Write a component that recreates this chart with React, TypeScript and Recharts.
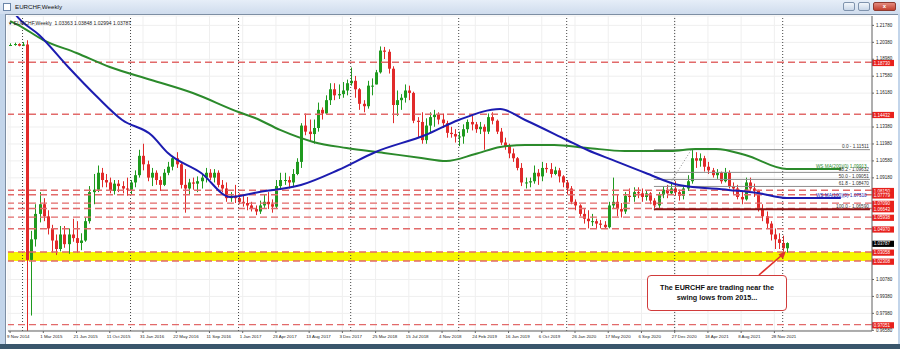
import { ComposedChart, Bar, Line, XAxis, YAxis, CartesianGrid, ReferenceLine, ReferenceArea } from "recharts";

// two-week candles, EURCHF, starting 9 Nov 2014
const OPEN = [
  1.2010, 1.2016, 1.2024, 1.2010, 1.2020, 1.0240, 1.0410, 1.0620,
  1.0700, 1.0600, 1.0500, 1.0400, 1.0330, 1.0450, 1.0370, 1.0450,
  1.0420, 1.0380, 1.0400, 1.0560, 1.0800, 1.0820, 1.0960, 1.0900,
  1.0880, 1.0810, 1.0870, 1.0850, 1.0830, 1.0820, 1.0880, 1.0940,
  1.1100, 1.1030, 1.0920, 1.0960, 1.0900, 1.0860, 1.0960, 1.1010,
  1.1080, 1.1030, 1.0860, 1.0830, 1.0880, 1.0870, 1.0890, 1.0920,
  1.0960, 1.0920, 1.0960, 1.0860, 1.0830, 1.0750, 1.0770, 1.0750,
  1.0720, 1.0710, 1.0690, 1.0660, 1.0640, 1.0690, 1.0720, 1.0700,
  1.0680, 1.0850, 1.0900, 1.0900, 1.0880, 1.0950, 1.1050, 1.1350,
  1.1300, 1.1280, 1.1330, 1.1480, 1.1450, 1.1560, 1.1650, 1.1600,
  1.1610, 1.1640, 1.1700, 1.1720, 1.1650, 1.1530, 1.1510, 1.1680,
  1.1680, 1.1790, 1.1970, 1.1960, 1.1820, 1.1520, 1.1560, 1.1580,
  1.1640, 1.1620, 1.1390, 1.1380, 1.1230, 1.1350, 1.1420, 1.1440,
  1.1400, 1.1370, 1.1290, 1.1280, 1.1260, 1.1260, 1.1320, 1.1380,
  1.1360, 1.1320, 1.1340, 1.1300, 1.1420, 1.1390, 1.1300, 1.1210,
  1.1180, 1.1120, 1.1080, 1.1000, 1.0880, 1.0880, 1.0890, 1.0960,
  1.0930, 1.1000, 1.0990, 1.0950, 1.0980, 1.0930, 1.0880, 1.0830,
  1.0720, 1.0690, 1.0620, 1.0580, 1.0560, 1.0560, 1.0540, 1.0530,
  1.0510, 1.0690, 1.0720, 1.0660, 1.0640, 1.0770, 1.0760, 1.0800,
  1.0790, 1.0760, 1.0790, 1.0730, 1.0690, 1.0780, 1.0820, 1.0790,
  1.0830, 1.0800, 1.0770, 1.0830, 1.0890, 1.1080, 1.1060, 1.1080,
  1.1010, 1.0980, 1.0940, 1.0960, 1.0890, 1.0960, 1.0850, 1.0830,
  1.0760, 1.0740, 1.0880, 1.0830, 1.0810, 1.0660, 1.0600, 1.0540,
  1.0450, 1.0410, 1.0380, 1.0336,
];
const HIGH = [
  1.2030, 1.2035, 1.2030, 1.2040, 1.2055, 1.0480, 1.0700, 1.0800,
  1.0750, 1.0650, 1.0530, 1.0450, 1.0520, 1.0520, 1.0500, 1.0580,
  1.0560, 1.0460, 1.0590, 1.0850, 1.0950, 1.1020, 1.1000, 1.0950,
  1.0920, 1.0900, 1.0900, 1.0890, 1.0920, 1.0900, 1.0980, 1.1150,
  1.1200, 1.1060, 1.1000, 1.0980, 1.0930, 1.0990, 1.1050, 1.1100,
  1.1130, 1.1040, 1.0990, 1.0910, 1.0920, 1.0930, 1.0950, 1.1000,
  1.0990, 1.0990, 1.0980, 1.0900, 1.0880, 1.0800, 1.0860, 1.0790,
  1.0780, 1.0760, 1.0720, 1.0690, 1.0730, 1.0780, 1.0800, 1.0740,
  1.0900, 1.0960, 1.0960, 1.0930, 1.0990, 1.1080, 1.1370, 1.1450,
  1.1400, 1.1400, 1.1540, 1.1500, 1.1600, 1.1700, 1.1700, 1.1690,
  1.1710, 1.1730, 1.1830, 1.1760, 1.1660, 1.1560, 1.1720, 1.1740,
  1.1810, 1.2004, 1.2000, 1.1980, 1.1840, 1.1640, 1.1610, 1.1690,
  1.1680, 1.1630, 1.1420, 1.1460, 1.1410, 1.1460, 1.1480, 1.1460,
  1.1450, 1.1390, 1.1340, 1.1320, 1.1300, 1.1360, 1.1400, 1.1430,
  1.1380, 1.1380, 1.1360, 1.1450, 1.1460, 1.1400, 1.1330, 1.1250,
  1.1200, 1.1160, 1.1090, 1.1040, 1.0920, 1.0920, 1.1020, 1.0990,
  1.1050, 1.1040, 1.1040, 1.1010, 1.1000, 1.0940, 1.0900, 1.0850,
  1.0740, 1.0700, 1.0660, 1.0650, 1.0620, 1.0580, 1.0570, 1.0560,
  1.0720, 1.0920, 1.0780, 1.0710, 1.0800, 1.0830, 1.0840, 1.0840,
  1.0830, 1.0810, 1.0800, 1.0750, 1.0800, 1.0850, 1.0860, 1.0880,
  1.0890, 1.0820, 1.0850, 1.0940, 1.1150, 1.1130, 1.1120, 1.1100,
  1.1050, 1.1000, 1.0990, 1.0970, 1.1000, 1.0980, 1.0880, 1.0860,
  1.0810, 1.0920, 1.0920, 1.0870, 1.0820, 1.0700, 1.0640, 1.0560,
  1.0500, 1.0460, 1.0440, 1.0385,
];
const LOW = [
  1.2008, 1.2010, 1.2005, 1.2007, 0.8500, 0.9780, 1.0350, 1.0550,
  1.0560, 1.0450, 1.0300, 1.0280, 1.0310, 1.0340, 1.0290, 1.0390,
  1.0300, 1.0320, 1.0390, 1.0540, 1.0700, 1.0800, 1.0840, 1.0840,
  1.0790, 1.0780, 1.0800, 1.0790, 1.0770, 1.0780, 1.0840, 1.0920,
  1.0980, 1.0890, 1.0850, 1.0860, 1.0810, 1.0850, 1.0940, 1.0980,
  1.1000, 1.0830, 1.0630, 1.0780, 1.0820, 1.0800, 1.0830, 1.0880,
  1.0900, 1.0880, 1.0840, 1.0800, 1.0720, 1.0720, 1.0710, 1.0700,
  1.0680, 1.0650, 1.0640, 1.0610, 1.0620, 1.0670, 1.0660, 1.0630,
  1.0660, 1.0830, 1.0860, 1.0830, 1.0840, 1.0940, 1.1000, 1.1270,
  1.1220, 1.1200, 1.1300, 1.1400, 1.1440, 1.1520, 1.1560, 1.1570,
  1.1580, 1.1600, 1.1680, 1.1580, 1.1480, 1.1460, 1.1490, 1.1600,
  1.1690, 1.1780, 1.1900, 1.1780, 1.1370, 1.1430, 1.1480, 1.1540,
  1.1560, 1.1370, 1.1250, 1.1200, 1.1200, 1.1290, 1.1340, 1.1360,
  1.1330, 1.1250, 1.1250, 1.1210, 1.1180, 1.1200, 1.1290, 1.1310,
  1.1290, 1.1280, 1.1150, 1.1280, 1.1360, 1.1280, 1.1190, 1.1150,
  1.1080, 1.1050, 1.0980, 1.0850, 1.0830, 1.0840, 1.0870, 1.0860,
  1.0890, 1.0960, 1.0920, 1.0940, 1.0880, 1.0840, 1.0780, 1.0700,
  1.0650, 1.0600, 1.0540, 1.0500, 1.0520, 1.0500, 1.0500, 1.0500,
  1.0500, 1.0660, 1.0600, 1.0590, 1.0620, 1.0720, 1.0720, 1.0750,
  1.0720, 1.0730, 1.0700, 1.0650, 1.0660, 1.0750, 1.0750, 1.0780,
  1.0770, 1.0730, 1.0740, 1.0810, 1.0870, 1.1000, 1.1010, 1.0970,
  1.0950, 1.0920, 1.0910, 1.0870, 1.0880, 1.0830, 1.0780, 1.0740,
  1.0700, 1.0730, 1.0810, 1.0760, 1.0640, 1.0560, 1.0500, 1.0400,
  1.0330, 1.0330, 1.0300, 1.0299,
];
const CLOSE = [
  1.2016, 1.2024, 1.2010, 1.2020, 1.0240, 1.0410, 1.0620, 1.0700,
  1.0600, 1.0500, 1.0400, 1.0330, 1.0450, 1.0370, 1.0450, 1.0420,
  1.0380, 1.0400, 1.0560, 1.0800, 1.0820, 1.0960, 1.0900, 1.0880,
  1.0810, 1.0870, 1.0850, 1.0830, 1.0820, 1.0880, 1.0940, 1.1100,
  1.1030, 1.0920, 1.0960, 1.0900, 1.0860, 1.0960, 1.1010, 1.1080,
  1.1030, 1.0860, 1.0830, 1.0880, 1.0870, 1.0890, 1.0920, 1.0960,
  1.0920, 1.0960, 1.0860, 1.0830, 1.0750, 1.0770, 1.0750, 1.0720,
  1.0710, 1.0690, 1.0660, 1.0640, 1.0690, 1.0720, 1.0700, 1.0680,
  1.0850, 1.0900, 1.0900, 1.0880, 1.0950, 1.1050, 1.1350, 1.1300,
  1.1280, 1.1330, 1.1480, 1.1450, 1.1560, 1.1650, 1.1600, 1.1610,
  1.1640, 1.1700, 1.1720, 1.1650, 1.1530, 1.1510, 1.1680, 1.1680,
  1.1790, 1.1970, 1.1960, 1.1820, 1.1520, 1.1560, 1.1580, 1.1640,
  1.1620, 1.1390, 1.1380, 1.1230, 1.1350, 1.1420, 1.1440, 1.1400,
  1.1370, 1.1290, 1.1280, 1.1260, 1.1260, 1.1320, 1.1380, 1.1360,
  1.1320, 1.1340, 1.1300, 1.1420, 1.1390, 1.1300, 1.1210, 1.1180,
  1.1120, 1.1080, 1.1000, 1.0880, 1.0880, 1.0890, 1.0960, 1.0930,
  1.1000, 1.0990, 1.0950, 1.0980, 1.0930, 1.0880, 1.0830, 1.0720,
  1.0690, 1.0620, 1.0580, 1.0560, 1.0560, 1.0540, 1.0530, 1.0510,
  1.0690, 1.0720, 1.0660, 1.0640, 1.0770, 1.0760, 1.0800, 1.0790,
  1.0760, 1.0790, 1.0730, 1.0690, 1.0780, 1.0820, 1.0790, 1.0830,
  1.0800, 1.0770, 1.0830, 1.0890, 1.1080, 1.1060, 1.1080, 1.1010,
  1.0980, 1.0940, 1.0960, 1.0890, 1.0960, 1.0850, 1.0830, 1.0760,
  1.0740, 1.0880, 1.0830, 1.0810, 1.0660, 1.0600, 1.0540, 1.0450,
  1.0410, 1.0380, 1.0336, 1.0379,
];

// moving averages (candle index -> value)
const MA100_AT = [0, 2, 7, 14, 21, 27, 34, 38, 46, 53, 60, 70, 79, 88, 100, 108, 118, 124, 134, 139, 145, 153, 161, 173, 180, 187, 200];
const MA100 = [1.2330, 1.2240, 1.2099, 1.1834, 1.1586, 1.1396, 1.1272, 1.1123, 1.0958, 1.0760, 1.0801, 1.0859, 1.0983, 1.1132, 1.1272, 1.1396, 1.1487, 1.1396, 1.1231, 1.1148, 1.1066, 1.0958, 1.0859, 1.0818, 1.0793, 1.0751, 1.0751];
const MA200_AT = [0, 2, 8, 16, 24, 34, 44, 55, 59, 65, 73, 81, 90, 99, 105, 112, 118, 124, 131, 139, 148, 159, 165, 170, 177, 187, 200];
const MA200 = [1.2214, 1.2181, 1.2057, 1.1950, 1.1834, 1.1727, 1.1619, 1.1462, 1.1413, 1.1314, 1.1215, 1.1165, 1.1124, 1.1082, 1.1057, 1.1115, 1.1173, 1.1190, 1.1190, 1.1165, 1.1140, 1.1140, 1.1157, 1.1157, 1.1107, 1.0991, 1.0991];

const DATE_TICKS = [0, 8, 16, 24, 32, 40, 48, 56, 64, 72, 80, 88, 96, 104, 112, 120, 128, 136, 144, 152, 160, 168, 176, 184];
const DATE_LABELS = [
  "9 Nov 2014", "1 Mar 2015", "21 Jun 2015", "11 Oct 2015", "31 Jan 2016", "22 May 2016",
  "11 Sep 2016", "1 Jan 2017", "23 Apr 2017", "13 Aug 2017", "3 Dec 2017", "25 Mar 2018",
  "15 Jul 2018", "4 Nov 2018", "24 Feb 2019", "16 Jun 2019", "6 Oct 2019", "26 Jan 2020",
  "17 May 2020", "6 Sep 2020", "27 Dec 2020", "18 Apr 2021", "8 Aug 2021", "28 Nov 2021",
];
const YEAR_STARTS = [3, 29, 55, 82, 108, 134, 160, 186];

const PRICE_TICKS = [0.9658, 0.9798, 0.9938, 1.0078, 1.0918, 1.1058, 1.1198, 1.1338, 1.1618, 1.1758, 1.1898, 1.2038, 1.2178];
const Y_MIN = 0.96523;
const Y_MAX = 1.22556;

const LEVELS = [1.1873, 1.14432, 1.0815, 1.07779, 1.0709, 1.06643, 1.05938, 1.0497, 1.03058, 1.02308, 0.97051];
const ZONE = [1.02308, 1.03058];
const LAST_PRICE = 1.03787;
const OHLC_TEXT = "1.03363 1.03848 1.02994 1.03787";

const FIB_START = 155;
const FIB_TOP_AT = 164;
const FIB_RATIOS = ["0.0", "38.2", "50.0", "61.8", "100.0"];
const FIB_PRICES = [1.11511, 1.09632, 1.09051, 1.0847, 1.0659];

const SLOTS = 208;
const FONT = '"Liberation Sans", Arial, sans-serif';
const BULL = "#1f9a1f";
const BEAR = "#e12a2a";
const LEVEL_RED = "#e26a6a";

const rows: any[] = Array.from({ length: SLOTS }, (_, i) => {
  const r: any = { i };
  if (i < CLOSE.length) {
    r.open = OPEN[i];
    r.high = HIGH[i];
    r.low = LOW[i];
    r.close = CLOSE[i];
    r.hl = [LOW[i], HIGH[i]];
  }
  return r;
});
MA100_AT.forEach((at, k) => { rows[at].ma100 = MA100[k]; });
MA200_AT.forEach((at, k) => { rows[at].ma200 = MA200[k]; });

function Candle(props: any) {
  const { x, y, width, height, payload, background } = props;
  if (!payload || payload.high == null) return null;
  const top = Math.min(y, y + height);
  const h = Math.abs(height);
  const per = h / (payload.high - payload.low || 1);
  const py = (v: number) => top + (payload.high - v) * per;
  const col = payload.close >= payload.open ? BULL : BEAR;
  const cx = Math.round(x + width / 2) + 0.5;
  let bottom = top + h;
  if (background && background.height) bottom = Math.min(bottom, background.y + background.height);
  const b1 = py(Math.max(payload.open, payload.close));
  const b2 = Math.min(py(Math.min(payload.open, payload.close)), bottom);
  return (
    <g>
      <line x1={cx} x2={cx} y1={top} y2={bottom} stroke={col} strokeWidth={1} />
      <rect x={cx - 1.5} y={b1} width={3} height={Math.max(1, b2 - b1)} fill={col} />
    </g>
  );
}

const DateTick = ({ x, y, payload }: any) => {
  const k = DATE_TICKS.indexOf(payload.value);
  return (
    <text x={x - 3} y={y + 3.5} fontSize={4.4} fill="#222" fontFamily={FONT}>
      {DATE_LABELS[k]}
    </text>
  );
};

const PriceTick = ({ x, y, payload }: any) => (
  <text x={x} y={y + 1.2} fontSize={4.5} fill="#222" fontFamily={FONT}>
    {Number(payload.value).toFixed(5)}
  </text>
);

const box = (p: any) => {
  const vb = p.viewBox || {};
  return { x: vb.x ?? 0, y: vb.y ?? 0, w: vb.width ?? 0, h: vb.height ?? 0 };
};

const priceTag = (text: string, bg: string) => (p: any) => {
  const b = box(p);
  const right = b.x + b.w;
  const cy = b.y + b.h / 2;
  return (
    <g>
      <rect x={right} y={cy - 2.4} width={22} height={6.2} fill={bg} />
      <text x={right + 1.8} y={cy + 2.3} fontSize={4.5} fill="#fff" fontFamily={FONT}>{text}</text>
    </g>
  );
};

const endText = (text: string, color: string) => (p: any) => {
  const b = box(p);
  return (
    <text x={b.x + b.w - 1} y={b.y - 1.3} textAnchor="end" fontSize={4.7} fill={color} fontFamily={FONT}>
      {text}
    </text>
  );
};

const startText = (text: string, color: string) => (p: any) => {
  const b = box(p);
  return (
    <text x={b.x} y={b.y - 1.3} fontSize={4.7} fill={color} fontFamily={FONT}>
      {text}
    </text>
  );
};

export default function App() {
  return (
    <div style={{ position: "absolute", left: 0, top: 0, width: 900, height: 349, overflow: "hidden", background: "#c3d5ea", fontFamily: FONT }}>
      {/* window title bar */}
      <div style={{ position: "absolute", left: 0, top: 0, width: 900, height: 14, background: "linear-gradient(#e6eef8, #cfdced)" }} />
      <div style={{ position: "absolute", left: 3, top: 3, width: 8, height: 8, background: "#fff", border: "1px solid #6c86a8", boxSizing: "border-box" }} />
      <div style={{ position: "absolute", left: 15, top: 3, fontSize: 6.2, color: "#111" }}>EURCHF,Weekly</div>
      <div style={{ position: "absolute", left: 843, top: 2, width: 12, height: 9, borderRadius: 2, background: "linear-gradient(#f2f6fb,#c9d7e8)", border: "1px solid #7f93ad", boxSizing: "border-box" }} />
      <div style={{ position: "absolute", left: 858, top: 2, width: 12, height: 9, borderRadius: 2, background: "linear-gradient(#f2f6fb,#c9d7e8)", border: "1px solid #7f93ad", boxSizing: "border-box" }} />
      <div style={{ position: "absolute", left: 873, top: 2, width: 23, height: 9, borderRadius: 2, background: "linear-gradient(#e48a7e,#c2402f)", border: "1px solid #8e3a30", boxSizing: "border-box", color: "#fff", fontSize: 6, lineHeight: "7px", textAlign: "center", fontWeight: 700 }}>x</div>

      {/* chart panel */}
      <div style={{ position: "absolute", left: 5, top: 14, width: 893, height: 330, background: "#fff", borderLeft: "1px solid #7d8ea3", borderTop: "1px solid #7d8ea3", boxSizing: "border-box" }} />
      <div style={{ position: "absolute", left: 0, top: 344, width: 900, height: 5, background: "#3a566c" }} />

      <div style={{ position: "absolute", left: 0, top: 0 }}>
        <ComposedChart width={900} height={349} data={rows} margin={{ top: 16, right: 0, bottom: 0, left: 8 }}>
          <XAxis
            dataKey="i"
            type="category"
            ticks={DATE_TICKS}
            interval={0}
            tick={<DateTick />}
            tickSize={2}
            tickMargin={1}
            height={18}
            axisLine={{ stroke: "#666" }}
            tickLine={{ stroke: "#666" }}
          />
          <YAxis
            orientation="right"
            type="number"
            domain={[Y_MIN, Y_MAX]}
            allowDataOverflow
            ticks={PRICE_TICKS}
            interval={0}
            width={28}
            tick={<PriceTick />}
            tickSize={2}
            tickMargin={2}
            axisLine={{ stroke: "#666" }}
            tickLine={{ stroke: "#666" }}
          />
          <CartesianGrid stroke="#efefef" />
          <ReferenceArea y1={ZONE[0]} y2={ZONE[1]} fill="#f6f600" fillOpacity={1} stroke="none" />
          {YEAR_STARTS.map((at) => (
            <ReferenceLine key={`yr-${at}`} x={at} stroke="#444" strokeDasharray="1 2" strokeWidth={1} />
          ))}
          {LEVELS.map((lv) => (
            <ReferenceLine key={`lv-${lv}`} y={lv} stroke={LEVEL_RED} strokeDasharray="7 4" strokeWidth={1.4} />
          ))}
          {FIB_PRICES.map((fp, k) => (
            <ReferenceLine
              key={`fib-${k}`}
              segment={[{ x: FIB_START, y: fp }, { x: SLOTS - 1, y: fp }]}
              stroke={k === FIB_PRICES.length - 1 ? "#8a1414" : "#8f8f8f"}
              strokeWidth={k === FIB_PRICES.length - 1 ? 2 : 1}
            />
          ))}
          <ReferenceLine
            segment={[{ x: FIB_START, y: FIB_PRICES[FIB_PRICES.length - 1] }, { x: FIB_TOP_AT, y: FIB_PRICES[0] }]}
            stroke="#8f8f8f"
            strokeDasharray="1 2"
          />
          <Bar dataKey="hl" barSize={3} shape={<Candle />} isAnimationActive={false} />
          <Line dataKey="ma200" type="monotone" stroke="#2b8a2b" strokeWidth={2} dot={false} connectNulls isAnimationActive={false} />
          <Line dataKey="ma100" type="monotone" stroke="#1c1cb0" strokeWidth={2} dot={false} connectNulls isAnimationActive={false} />
          {FIB_PRICES.map((fp, k) => (
            <ReferenceLine
              key={`fibl-${k}`}
              segment={[{ x: FIB_START, y: fp }, { x: SLOTS - 1, y: fp }]}
              stroke="none"
              label={endText(`${FIB_RATIOS[k]} - ${fp.toFixed(5)}`, "#333")}
            />
          ))}
          <ReferenceLine
            segment={[{ x: 194, y: MA200[MA200.length - 1] }, { x: SLOTS - 1, y: MA200[MA200.length - 1] }]}
            stroke="none"
            label={startText("WS MA(200)(0) 1.09913", "#2b8a2b")}
          />
          <ReferenceLine
            segment={[{ x: 194, y: MA100[MA100.length - 1] }, { x: SLOTS - 1, y: MA100[MA100.length - 1] }]}
            stroke="none"
            label={startText("WS MA(100)(0) 1.07510", "#1c1cb0")}
          />
          {LEVELS.map((lv) => (
            <ReferenceLine key={`tag-${lv}`} y={lv} stroke="none" label={priceTag(lv.toFixed(5), "#e8201c")} />
          ))}
          <ReferenceLine y={LAST_PRICE} stroke="none" label={priceTag(LAST_PRICE.toFixed(5), "#000")} />
        </ComposedChart>
      </div>

      {/* symbol info line */}
      <div style={{ position: "absolute", left: 8, top: 19.5, fontSize: 5, color: "#222", whiteSpace: "nowrap" }}>
        <span style={{ fontSize: 4.5 }}>▼</span> EURCHF,Weekly&nbsp; {OHLC_TEXT}
      </div>

      {/* callout */}
      <svg width={900} height={349} style={{ position: "absolute", left: 0, top: 0, pointerEvents: "none" }}>
        <line x1={759} y1={275} x2={782} y2={255} stroke="#e0302c" strokeWidth={1.6} />
        <polygon points="786,251 778.5,254.5 783,259" fill="#e0302c" />
      </svg>
      <div
        style={{
          position: "absolute", left: 647, top: 275, width: 140, height: 36,
          border: "1.5px solid #d13b3b", borderRadius: 4, background: "#fff", boxSizing: "border-box",
          fontWeight: 700, fontSize: 7.2, lineHeight: "10px", textAlign: "center", color: "#111", paddingTop: 7,
        }}
      >
        The EURCHF are trading near the
        <br />
        swing lows from 2015...
      </div>
    </div>
  );
}
